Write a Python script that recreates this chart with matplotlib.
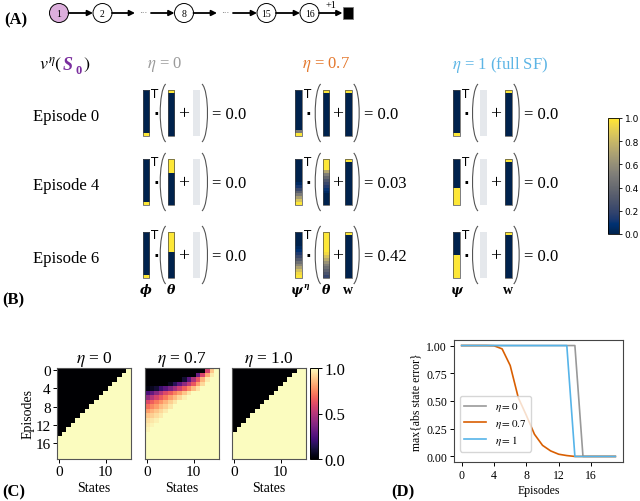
import matplotlib
matplotlib.use('Agg')
import matplotlib.pyplot as plt
import numpy as np
from matplotlib.patches import Circle, Rectangle, PathPatch
from matplotlib.path import Path
from matplotlib.cm import ScalarMappable
from matplotlib.colors import Normalize

plt.rcParams['font.family'] = ['Liberation Serif', 'DejaVu Serif']
plt.rcParams['mathtext.fontset'] = 'stix'

# ---------------- data ----------------
# (A) chain
chain_labels = ['1', '2', '8', '15', '16']

# (B) vectors, 16 cells each, top to bottom
episode_names = ['Episode 0', 'Episode 4', 'Episode 6']
eta_titles = [r'$\eta$ = 0', r'$\eta$ = 0.7', r'$\eta$ = 1 (full SF)']
eta_colors = ['#9a9a9a', '#e4782d', '#5db5e5']

phi = [0, 0, 0, 0, 0, 0, 0, 0, 0, 0, 0, 0, 0, 0, 0, 1]
w_vec = [1, 0, 0, 0, 0, 0, 0, 0, 0, 0, 0, 0, 0, 0, 0, 0]

theta_eta0 = [
    [1, 0, 0, 0, 0, 0, 0, 0, 0, 0, 0, 0, 0, 0, 0, 0],
    [1, 1, 1, 1, 1, 0, 0, 0, 0, 0, 0, 0, 0, 0, 0, 0],
    [1, 1, 1, 1, 1, 1, 1, 0, 0, 0, 0, 0, 0, 0, 0, 0],
]
psi_eta07 = [
    [0, 0, 0, 0, 0, 0, 0, 0, 0, 0, 0, 0, 0, 0, 0.5, 1],
    [0, 0, 0, 0, 0, 0, 0, 0, 0.05, 0.12, 0.22, 0.35, 0.5, 0.68, 0.85, 1],
    [0, 0, 0, 0, 0, 0.04, 0.08, 0.14, 0.22, 0.32, 0.44, 0.56, 0.7, 0.84, 0.95, 1],
]
theta_eta07 = [
    [1, 0, 0, 0, 0, 0, 0, 0, 0, 0, 0, 0, 0, 0, 0, 0],
    [1, 1, 1, 1, 0.72, 0.52, 0.4, 0.3, 0.22, 0.15, 0.1, 0.05, 0, 0, 0, 0],
    [1, 1, 1, 1, 1, 1, 1, 0.95, 0.85, 0.74, 0.62, 0.52, 0.44, 0.36, 0.28, 0.2],
]
psi_eta1 = [
    [0, 0, 0, 0, 0, 0, 0, 0, 0, 0, 0, 0, 0, 0, 0, 1],
    [0, 0, 0, 0, 0, 0, 0, 0, 0, 0, 1, 1, 1, 1, 1, 1],
    [0, 0, 0, 0, 0, 0, 0, 0, 1, 1, 1, 1, 1, 1, 1, 1],
]
v_s0 = [[0.0, 0.0, 0.0], [0.0, 0.03, 0.42], [0.0, 0.0, 0.0]]  # [eta][episode]

# (C) value heatmaps: first learned state per episode for eta=0 and eta=1
front_eta0 = [15, 14, 13, 12, 11, 10, 9, 8, 7, 6, 5, 4, 3, 2, 1, 0, 0, 0, 0, 0]
front_eta1 = [14, 13, 12, 11, 10, 9, 8, 7, 6, 5, 4, 3, 2, 1, 0, 0, 0, 0, 0, 0]
value_eta07 = [
    [0, 0, 0, 0, 0, 0, 0, 0, 0, 0, 0, 0, 0, 0.58, 0.88, 1],
    [0, 0, 0, 0, 0, 0, 0, 0, 0, 0, 0, 0.32, 0.58, 0.82, 0.96, 1],
    [0, 0, 0, 0, 0, 0, 0, 0, 0.1, 0.28, 0.48, 0.64, 0.84, 0.96, 1, 1],
    [0, 0, 0, 0, 0, 0.06, 0.16, 0.28, 0.4, 0.52, 0.64, 0.8, 0.92, 1, 1, 1],
    [0.03, 0.06, 0.1, 0.2, 0.28, 0.36, 0.46, 0.56, 0.66, 0.76, 0.86, 0.94, 1, 1, 1, 1],
    [0.24, 0.3, 0.4, 0.5, 0.6, 0.66, 0.74, 0.8, 0.88, 0.95, 1, 1, 1, 1, 1, 1],
    [0.42, 0.5, 0.58, 0.65, 0.72, 0.8, 0.86, 0.92, 0.97, 1, 1, 1, 1, 1, 1, 1],
    [0.6, 0.66, 0.72, 0.78, 0.84, 0.9, 0.95, 1, 1, 1, 1, 1, 1, 1, 1, 1],
    [0.7, 0.75, 0.8, 0.86, 0.9, 0.95, 1, 1, 1, 1, 1, 1, 1, 1, 1, 1],
    [0.8, 0.84, 0.88, 0.92, 0.96, 1, 1, 1, 1, 1, 1, 1, 1, 1, 1, 1],
    [0.88, 0.9, 0.93, 0.96, 1, 1, 1, 1, 1, 1, 1, 1, 1, 1, 1, 1],
    [0.93, 0.95, 0.97, 1, 1, 1, 1, 1, 1, 1, 1, 1, 1, 1, 1, 1],
    [0.96, 0.98, 1, 1, 1, 1, 1, 1, 1, 1, 1, 1, 1, 1, 1, 1],
    [0.98, 1, 1, 1, 1, 1, 1, 1, 1, 1, 1, 1, 1, 1, 1, 1],
    [1, 1, 1, 1, 1, 1, 1, 1, 1, 1, 1, 1, 1, 1, 1, 1],
    [1, 1, 1, 1, 1, 1, 1, 1, 1, 1, 1, 1, 1, 1, 1, 1],
    [1, 1, 1, 1, 1, 1, 1, 1, 1, 1, 1, 1, 1, 1, 1, 1],
    [1, 1, 1, 1, 1, 1, 1, 1, 1, 1, 1, 1, 1, 1, 1, 1],
    [1, 1, 1, 1, 1, 1, 1, 1, 1, 1, 1, 1, 1, 1, 1, 1],
    [1, 1, 1, 1, 1, 1, 1, 1, 1, 1, 1, 1, 1, 1, 1, 1],
]
heat_titles = [r'$\eta$ = 0', r'$\eta$ = 0.7', r'$\eta$ = 1.0']

# (D) max abs state error
episodes = list(range(20))
err_eta0 = [1, 1, 1, 1, 1, 1, 1, 1, 1, 1, 1, 1, 1, 1, 1, 0, 0, 0, 0, 0]
err_eta07 = [1, 1, 1, 1, 0.998, 0.97, 0.82, 0.53, 0.37, 0.2, 0.1, 0.05, 0.02, 0.008, 0, 0, 0, 0, 0, 0]
err_eta1 = [1, 1, 1, 1, 1, 1, 1, 1, 1, 1, 1, 1, 1, 1, 0, 0, 0, 0, 0, 0]
line_colors = ['#999999', '#d95f02', '#56b4e9']
line_labels = [r'$\eta = 0$', r'$\eta = 0.7$', r'$\eta = 1$']

# ---------------- figure ----------------
W, H = 640, 502
fig = plt.figure(figsize=(W / 100, H / 100), dpi=100)


def px_rect(x, y, w, h):
    # pixel box (top-left origin) -> figure fraction
    return [x / W, 1 - (y + h) / H, w / W, h / H]


# overlay axes in pixel units for panels A and B
ax0 = fig.add_axes([0, 0, 1, 1])
ax0.axis('off')

# ---- (A) ----
ay = 14
node_x = [59, 102.5, 184, 266.5, 309.5]
for i, (x, lab) in enumerate(zip(node_x, chain_labels)):
    fc = '#dcaedc' if i == 0 else 'white'
    ax0.add_patch(Circle((x, ay), 9.5, fc=fc, ec='k', lw=0.7))
    ax0.text(x, ay + 0.5, lab, ha='center', va='center', fontsize=7)
for x in [143, 225]:
    ax0.text(x, ay - 1, '···', ha='center', va='center', fontsize=6, color='#666666')
arrows = [(68.5, 93), (112, 135), (151, 174.5), (193.5, 217), (233, 257), (276, 300), (319, 342.5)]
for x0, x1 in arrows:
    ax0.annotate('', xy=(x1, ay), xytext=(x0, ay),
                 arrowprops=dict(arrowstyle='-|>', lw=1.3, color='k', mutation_scale=8,
                                 shrinkA=0, shrinkB=0))
ax0.add_patch(Rectangle((343, 8), 10, 11.5, fc='k', ec='#777777', lw=0.6))
ax0.text(331, 5, '+1', ha='center', va='center', fontsize=7.5)
ax0.text(4, 20, '(A)', ha='left', va='center', fontsize=12, fontweight='bold')

# ---- (B) ----
bar_w, bar_h = 6.7, 46
row_tops = [91, 160, 233]
col_left = [142.7, 295, 453]
col_mid = [167.7, 322.7, 480]
col_right = [193.3, 345, 505]


def draw_bar(x, top, vec):
    if vec is None:
        ax0.add_patch(Rectangle((x, top), bar_w, bar_h, fc='#e5e8ec', ec='none'))
        return
    ax0.imshow(np.array(vec, dtype=float)[:, None], cmap='cividis', vmin=0, vmax=1,
               extent=(x, x + bar_w, top + bar_h, top), aspect='auto',
               interpolation='nearest', zorder=2)
    ax0.add_patch(Rectangle((x, top), bar_w, bar_h, fc='none', ec='#4a4a4a', lw=0.5, zorder=3))


def paren(x_end, x_bulge, y_top, y_bot):
    h = y_bot - y_top
    cx = (x_bulge - 0.25 * x_end) / 0.75
    verts = [(x_end, y_top), (cx, y_top + 0.12 * h), (cx, y_bot - 0.12 * h), (x_end, y_bot)]
    codes = [Path.MOVETO, Path.CURVE4, Path.CURVE4, Path.CURVE4]
    ax0.add_patch(PathPatch(Path(verts, codes), fill=False, lw=0.8, ec='#555555'))


ax0.text(39, 65, r'$v^{\eta}($', ha='left', va='center', fontsize=13)
ax0.text(63, 66, 'S', ha='left', va='center', fontsize=13, fontweight='bold',
         fontstyle='italic', color='#7a2e9e')
ax0.text(75.5, 71, '0', ha='left', va='center', fontsize=9, fontweight='bold', color='#7a2e9e')
ax0.text(83, 65, r'$)$', ha='left', va='center', fontsize=13)

for j in range(3):
    ax0.text([165, 326, 500][j], 65, eta_titles[j], ha='center', va='center',
             fontsize=12, color=eta_colors[j])

for i, top in enumerate(row_tops):
    cy = top + bar_h / 2
    ax0.text(33, cy + 3, episode_names[i], ha='left', va='center', fontsize=12)
    for j in range(3):
        if j == 0:
            left, mid, right = phi, theta_eta0[i], None
        elif j == 1:
            left, mid, right = psi_eta07[i], theta_eta07[i], w_vec
        else:
            left, mid, right = psi_eta1[i], None, w_vec
        xl, xm, xr = col_left[j], col_mid[j], col_right[j]
        draw_bar(xl, top, left)
        draw_bar(xm, top, mid)
        draw_bar(xr, top, right)
        ax0.text(xl + 12.3, top + 3, 'T', ha='center', va='center', fontsize=8.5,
                 family='DejaVu Sans')
        ax0.text(xl + 13.3, cy + 0.5, '·', ha='center', va='center', fontsize=11,
                 fontweight='bold', family='DejaVu Sans')
        paren(xm - 2, xm - 7.5, top - 6, top + bar_h + 6)
        paren(xr + bar_w + 2, xr + bar_w + 7.5, top - 6, top + bar_h + 6)
        ax0.text((xm + bar_w + xr) / 2, cy + 0.5, '+', ha='center', va='center', fontsize=14)
        ax0.text(xr + bar_w + 12.5, cy + 1, '= ' + str(v_s0[j][i]), ha='left', va='center',
                 fontsize=12)

# symbol labels under the bottom row
ly = 291
sym_kw = dict(ha='center', va='center', fontsize=9, fontweight='bold', fontstyle='italic',
              family='DejaVu Serif')
ax0.text(col_left[0] + bar_w / 2, ly, 'ϕ', **sym_kw)
ax0.text(col_mid[0] + bar_w / 2, ly, 'θ', **sym_kw)
ax0.text(col_left[1] + bar_w / 2 - 1.5, ly, 'ψ', **sym_kw)
ax0.text(col_left[1] + bar_w / 2 + 5.5, ly - 5, 'η', ha='left', va='center', fontsize=5.5,
         fontweight='bold', fontstyle='italic', family='DejaVu Serif')
ax0.text(col_mid[1] + bar_w / 2, ly, 'θ', **sym_kw)
ax0.text(col_right[1] + bar_w / 2, ly, 'w', ha='center', va='center', fontsize=10,
         fontweight='bold')
ax0.text(col_left[2] + bar_w / 2, ly, 'ψ', **sym_kw)
ax0.text(col_right[2] + bar_w / 2, ly, 'w', ha='center', va='center', fontsize=10,
         fontweight='bold')
ax0.text(2, 300, '(B)', ha='left', va='center', fontsize=12, fontweight='bold')

# (B) colorbar
cax_b = fig.add_axes(px_rect(608, 119, 11, 116))
cb = fig.colorbar(ScalarMappable(norm=Normalize(0, 1), cmap='cividis'), cax=cax_b)
cb.set_ticks([0, 0.2, 0.4, 0.6, 0.8, 1.0])
cb.set_ticklabels(['0.0', '0.2', '0.4', '0.6', '0.8', '1.0'])
cb.ax.tick_params(labelsize=6.5, length=2.5, width=0.6, pad=1.5)
for t in cb.ax.get_yticklabels():
    t.set_family('DejaVu Sans')
cb.outline.set_linewidth(0.6)

ax0.set_xlim(0, W)
ax0.set_ylim(H, 0)

# ---- (C) ----
states = np.arange(16)
value_eta0 = (states[None, :] >= np.array(front_eta0)[:, None]).astype(float)
value_eta1 = (states[None, :] >= np.array(front_eta1)[:, None]).astype(float)
heat_data = [value_eta0, np.array(value_eta07), value_eta1]
heat_x = [57, 145, 232]
for k in range(3):
    ax = fig.add_axes(px_rect(heat_x[k], 369, 74, 91))
    im = ax.imshow(heat_data[k], cmap='magma', vmin=0, vmax=1, aspect='auto',
                   interpolation='nearest')
    ax.set_title(heat_titles[k], fontsize=12.5, pad=3)
    ax.set_xticks([0, 10])
    ax.tick_params(labelsize=11, length=3, width=0.7, pad=1.5)
    ax.set_xlabel('States', fontsize=10, labelpad=2)
    if k == 0:
        ax.set_yticks([0, 4, 8, 12, 16])
        ax.set_ylabel('Episodes', fontsize=10, labelpad=1)
    else:
        ax.set_yticks([])
    for s in ax.spines.values():
        s.set_color('#555555')
        s.set_linewidth(0.8)

cax_c = fig.add_axes(px_rect(310, 369, 7.5, 91))
cb2 = fig.colorbar(im, cax=cax_c)
cb2.set_ticks([0, 0.5, 1.0])
cb2.set_ticklabels(['0.0', '0.5', '1.0'])
cb2.ax.tick_params(labelsize=12, length=3, width=0.7, pad=2)
cb2.outline.set_linewidth(0.7)
ax0.text(2, 492, '(C)', ha='left', va='center', fontsize=12, fontweight='bold')

# ---- (D) ----
axd = fig.add_axes(px_rect(454, 341, 169, 122))
for err, c, lab in zip([err_eta0, err_eta07, err_eta1], line_colors, line_labels):
    axd.plot(episodes, err, color=c, lw=1.2, label=lab)
axd.set_xticks([0, 4, 8, 12, 16])
axd.set_yticks([0, 0.25, 0.5, 0.75, 1.0])
axd.tick_params(labelsize=8.5, length=3, width=0.7, pad=2)
axd.set_xlabel('Episodes', fontsize=8.5, labelpad=2)
axd.set_ylabel('max{abs state error}', fontsize=8.5, labelpad=3)
for s in axd.spines.values():
    s.set_color('#444444')
    s.set_linewidth(0.8)
axd.legend(loc='lower left', bbox_to_anchor=(0.0, 0.04), fontsize=8, borderpad=0.4,
           labelspacing=0.3, handlelength=2.0)
ax0.text(391, 492, '(D)', ha='left', va='center', fontsize=12, fontweight='bold')

fig.savefig('out.png', dpi=100)
